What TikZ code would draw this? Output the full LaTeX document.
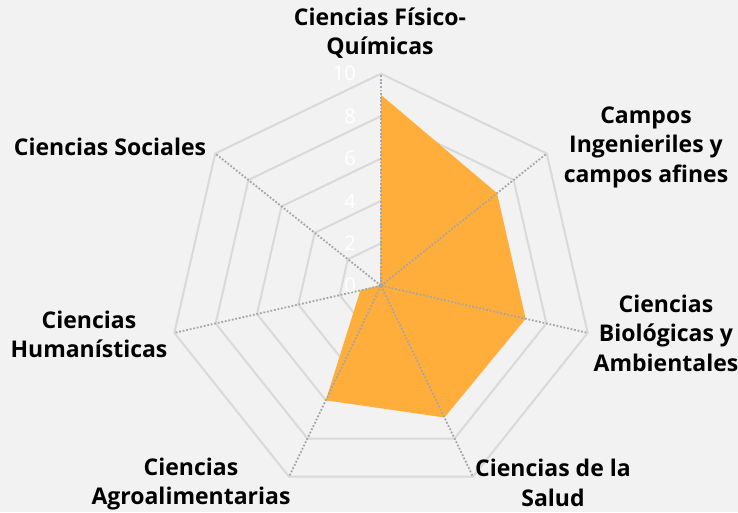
\documentclass[tikz,border=0pt]{standalone}
\usepackage{fontspec}
\setmainfont{Open Sans}
\definecolor{bgc}{HTML}{F2F2F2}
\definecolor{gridc}{HTML}{D9D9D9}
\definecolor{axisc}{HTML}{A6A6A6}
\definecolor{fillc}{HTML}{FFAE3B}
\begin{document}
\begin{tikzpicture}[x=1pt,y=1pt,
  lab/.style={font=\bfseries\fontsize{23}{29.5}\selectfont, align=center, text=black, inner sep=0pt},
  ticklab/.style={font=\fontsize{20}{20}\selectfont, text=white, anchor=east, inner sep=0pt},
  gridline/.style={draw=gridc, line width=2pt, line join=miter},
  axisline/.style={draw=axisc, line width=1.8pt, dash pattern=on 1.8pt off 1.8pt}]
\fill[bgc] (0,-512) rectangle (738,0);
\useasboundingbox (0,-512) rectangle (738,0);
\begin{scope}[shift={(381,-285.7)}]
  \coordinate (O) at (0,0);
  \foreach \k in {0,...,6} { \coordinate (t\k) at (90-\k*360/7:212); }
  \foreach \v in {2,4,6,8,10} {
    \draw[gridline] (90:\v*21.2) -- (90-360/7:\v*21.2) -- (90-2*360/7:\v*21.2)
      -- (90-3*360/7:\v*21.2) -- (90-4*360/7:\v*21.2) -- (90-5*360/7:\v*21.2)
      -- (90-6*360/7:\v*21.2) -- cycle;
  }
  \fill[fillc] (90:9*21.2) -- (90-360/7:7*21.2) -- (90-2*360/7:7*21.2)
      -- (90-3*360/7:6.9*21.2) -- (90-4*360/7:6*21.2) -- (90-5*360/7:1*21.2)
      -- (90-6*360/7:0.05*21.2) -- cycle;
  \foreach \k in {0,...,6} { \draw[axisline] (O) -- (t\k); }
  \fill[axisc] (O) circle (2.6);
\end{scope}
% tick labels
\foreach \v in {0,2,4,6,8,10} {
  \node[ticklab] (tick\v) at (356,-285.7+\v*21.2) {\v};
}
% category labels
\node[lab] (l0) at (380,-33) {Ciencias Físico-\\Químicas};
\node[lab] (l1) at (646,-147) {Campos\\Ingenieriles y\\campos afines};
\node[lab] (l2) at (666,-333) {Ciencias\\Biológicas y\\Ambientales};
\node[lab] (l3) at (553,-483) {Ciencias de la\\Salud};
\node[lab] (l4) at (191,-484) {Ciencias\\Agroalimentarias};
\node[lab] (l5) at (89,-334.5) {Ciencias\\Humanísticas};
\node[lab] (l6) at (110,-147) {Ciencias Sociales};
\end{tikzpicture}
\end{document}
